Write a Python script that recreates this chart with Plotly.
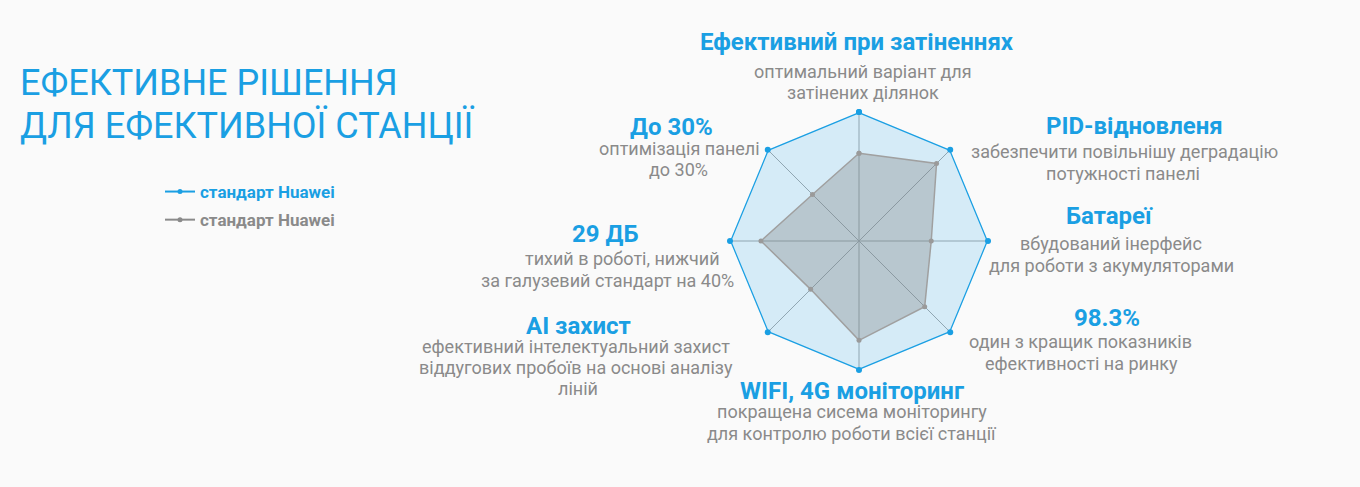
import plotly.graph_objects as go

BLUE = '#1a9fe3'
GRAY_TXT = '#8a8a8a'
FONT = 'Roboto'

# radar axes (clockwise from top)
axes = ['Ефективний при затіненнях', 'PID-відновленя', 'Батареї', '98.3%',
        'WIFI, 4G моніторинг', 'AI захист', '29 ДБ', 'До 30%']
huawei_outer = [100, 100, 100, 100, 100, 100, 100, 100]
huawei_inner = [68, 85, 56, 72, 77, 53, 76, 51]
series_names = ['стандарт Huawei', 'стандарт Huawei']

descriptions = [
    ['оптимальний варіант для', 'затінених ділянок'],
    ['забезпечити повільнішу деградацію', 'потужності панелі'],
    ['вбудований інерфейс', 'для роботи з акумуляторами'],
    ['один з кращик показників', 'ефективності на ринку'],
    ['покращена сисема моніторингу', 'для контролю роботи всієї станції'],
    ['ефективний інтелектуальний захист', 'віддугових пробоїв на основі аналізу', 'ліній'],
    ['тихий в роботі, нижчий', 'за галузевий стандарт на 40%'],
    ['оптимізація панелі', 'до 30%'],
]

# pixel placement: title centre, then centre of each description line
title_pos = [(857, 41), (1134, 125), (1109, 215), (1107, 317),
             (852, 390), (578, 325), (605, 233), (671, 126)]
desc_pos = [
    [(863, 73), (863, 94)],
    [(1124, 153), (1123, 175)],
    [(1111, 245), (1111, 267)],
    [(1080, 343), (1081, 365)],
    [(852, 413), (852, 435)],
    [(576, 348), (576, 369), (578, 390)],
    [(622, 260), (607, 282)],
    [(679, 150), (678, 172)],
]

W, H = 1360, 487
cx, cy, R = 859, 241, 129


def px(x, y):
    return x / W, 1 - y / H


fig = go.Figure()

theta = axes + [axes[0]]
fig.add_trace(go.Scatterpolar(
    r=huawei_outer + [huawei_outer[0]], theta=theta,
    mode='lines+markers', fill='toself', showlegend=False,
    fillcolor='rgba(29,161,230,0.17)',
    line=dict(color=BLUE, width=2.5),
    marker=dict(color=BLUE, size=6),
))
fig.add_trace(go.Scatterpolar(
    r=huawei_inner + [huawei_inner[0]], theta=theta,
    mode='lines+markers', fill='toself', showlegend=False,
    fillcolor='rgba(128,128,128,0.34)',
    line=dict(color='#a0a0a0', width=1.5),
    marker=dict(color='#9a9a9a', size=5),
))

# legend entries (line + dot, no fill swatch)
for i, (nm, col) in enumerate(zip(series_names, [BLUE, '#8a8a8a'])):
    fig.add_trace(go.Scatterpolar(
        r=[None], theta=[axes[0]], mode='lines+markers',
        name='<b><span style="color:%s">%s</span></b>' % (col, nm),
        legendgroup='g%d' % i,
        line=dict(color=col, width=2), marker=dict(color=col, size=5),
    ))

# axis labels
for name, (tx, ty), lines, pos in zip(axes, title_pos, descriptions, desc_pos):
    x, y = px(tx, ty + 1)
    fig.add_annotation(x=x, y=y, xref='paper', yref='paper',
                       text='<b>%s</b>' % name, showarrow=False,
                       xanchor='center', yanchor='middle',
                       font=dict(family=FONT, size=24, color=BLUE))
    for line, (lx, ly) in zip(lines, pos):
        x, y = px(lx, ly - 2)
        fig.add_annotation(x=x, y=y, xref='paper', yref='paper',
                           text=line, showarrow=False,
                           xanchor='center', yanchor='middle',
                           font=dict(family=FONT, size=18, color=GRAY_TXT))

# heading
for txt, y in [('ЕФЕКТИВНЕ РІШЕННЯ', 83), ('ДЛЯ ЕФЕКТИВНОЇ СТАНЦІЇ', 126)]:
    hx, hy = px(18, y)
    fig.add_annotation(x=hx, y=hy, xref='paper', yref='paper',
                       text=txt, showarrow=False, xanchor='left', yanchor='middle',
                       font=dict(family=FONT, size=36, color=BLUE))

lx, ly = px(160, 174)
fig.update_layout(
    width=W, height=H,
    margin=dict(l=0, r=0, t=0, b=0),
    paper_bgcolor='#fafafa',
    plot_bgcolor='#fafafa',
    font=dict(family=FONT),
    polar=dict(
        domain=dict(x=[(cx - R) / W, (cx + R) / W],
                    y=[(H - cy - R) / H, (H - cy + R) / H]),
        bgcolor='rgba(0,0,0,0)',
        gridshape='linear',
        radialaxis=dict(visible=False, range=[0, 100]),
        angularaxis=dict(rotation=90, direction='clockwise',
                         showticklabels=False, ticks='',
                         showline=False, gridcolor='#a8a8a8', gridwidth=1),
    ),
    legend=dict(x=lx, y=ly, xanchor='left', yanchor='top',
                bgcolor='rgba(0,0,0,0)', tracegroupgap=3,
                font=dict(family=FONT, size=17), itemwidth=30),
)

fig.write_html("out.html", config={'displayModeBar': False},
               post_script="document.body.style.margin='0';"
                           "document.body.style.background='#fafafa';")
